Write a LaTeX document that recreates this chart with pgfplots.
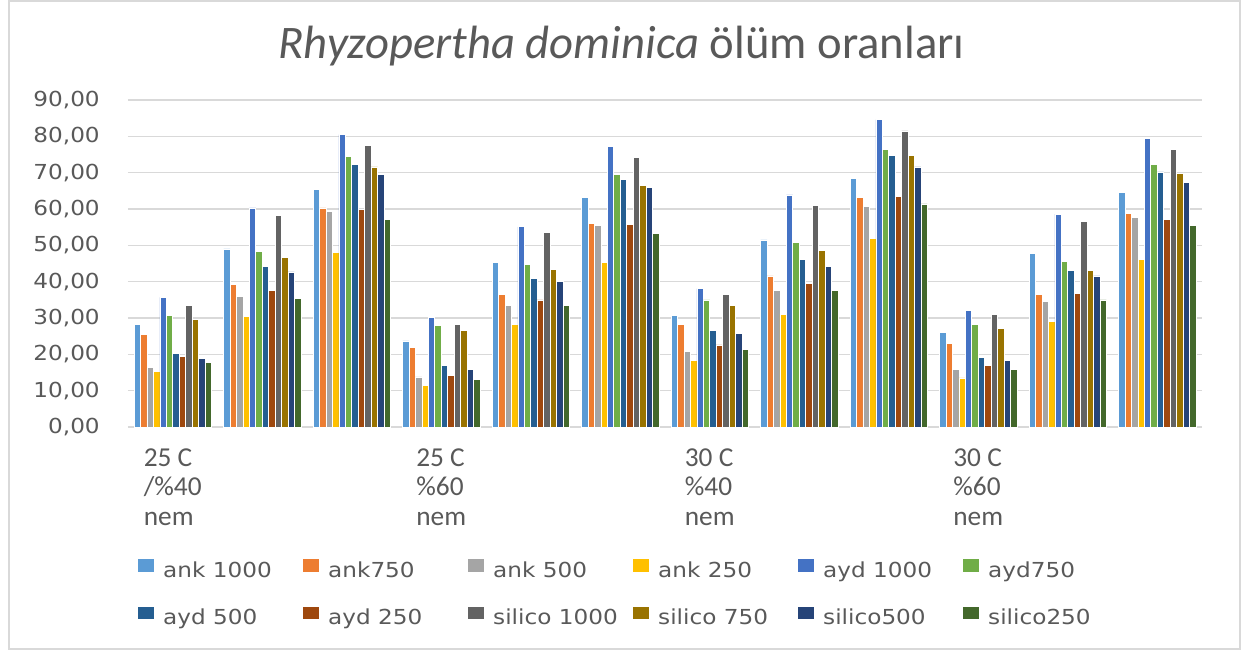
\documentclass[border=0pt]{standalone}
\usepackage{pgfplots}
\pgfplotsset{compat=1.18}
\usepackage{fontspec}
\setmainfont{Carlito}
\newfontfamily\dv[FakeStretch=1.12]{DejaVu Sans}
\definecolor{c1}{HTML}{5B9BD5}
\definecolor{c2}{HTML}{ED7D31}
\definecolor{c3}{HTML}{A5A5A5}
\definecolor{c4}{HTML}{FFC000}
\definecolor{c5}{HTML}{4472C4}
\definecolor{c6}{HTML}{70AD47}
\definecolor{c7}{HTML}{255E91}
\definecolor{c8}{HTML}{9E480E}
\definecolor{c9}{HTML}{636363}
\definecolor{c10}{HTML}{997300}
\definecolor{c11}{HTML}{264478}
\definecolor{c12}{HTML}{43682B}
\definecolor{gridc}{HTML}{D9D9D9}
\definecolor{txt}{HTML}{595959}
\newcommand{\lb}[1]{\makebox[105pt][l]{#1}}
\begin{document}
\begin{tikzpicture}
\useasboundingbox (0,0) rectangle (933.75pt,487.5pt);
\draw[color=gridc, line width=1.5pt] (6.75pt,0.75pt) rectangle (930pt,486.75pt);
\begin{axis}[
  at={(96pt,167.25pt)}, anchor=south west,
  width=805.5pt, height=245.25pt, scale only axis,
  xmin=-0.5, xmax=11.5, ymin=0, ymax=90,
  ytick={0,10,...,90},
  axis line style={draw=none},
  major tick length=0pt,
  ymajorgrids, grid style={color=gridc, line width=1.1pt},
  ybar=0pt, bar width=0.072,
  every axis plot/.append style={draw=white, line width=0.5pt,
    legend image code/.code={\fill[##1, draw=none] (0pt,0pt) rectangle (12pt,9.5pt);}},
  xtick={0,3,6,9},
  xticklabels={{25 C\\/\%40\\nem},{25 C\\\%60\\nem},{30 C\\\%40\\nem},{30 C\\\%60\\nem}},
  xticklabel style={align=left, font=\fontsize{20.5}{22}\selectfont, text=txt, anchor=north, inner sep=0pt, yshift=-16pt},
  yticklabel style={font=\dv\fontsize{15.5}{18}\selectfont, text=txt, anchor=east, inner sep=0pt, xshift=-21pt,
    /pgf/number format/.cd, fixed, fixed zerofill, precision=2, use comma, assume math mode=true},
  title={\textit{Rhyzopertha dominica} ölüm oranları},
  title style={at={(axis description cs:0.4595,1.139)}, anchor=center, font=\fontsize{35}{40}\selectfont, text=txt},
  legend columns=6,
  legend style={draw=none, fill=none, inner sep=0pt, at={(axis description cs:0.0093,-0.4036)}, anchor=north west,
    font=\dv\fontsize{15.5}{18}\selectfont, text=txt, row sep=18.25pt,
    /tikz/every odd column/.append style={column sep=6.75pt},
    nodes={inner sep=0pt, text height=12pt, text depth=3.5pt}},
]
\addplot[fill=c1] coordinates {(0,28.2)(1,49.0)(2,65.3)(3,23.7)(4,45.2)(5,63.1)(6,30.7)(7,51.5)(8,68.4)(9,26.1)(10,47.7)(11,64.5)};
\addplot[fill=c2] coordinates {(0,25.5)(1,39.2)(2,60.3)(3,21.9)(4,36.4)(5,56.0)(6,28.2)(7,41.6)(8,63.2)(9,23.0)(10,36.4)(11,58.9)};
\addplot[fill=c3] coordinates {(0,16.3)(1,36.0)(2,59.3)(3,13.8)(4,33.5)(5,55.4)(6,20.8)(7,37.5)(8,60.7)(9,15.9)(10,34.6)(11,57.6)};
\addplot[fill=c4] coordinates {(0,15.2)(1,30.4)(2,48.0)(3,11.4)(4,28.2)(5,45.2)(6,18.3)(7,31.1)(8,51.9)(9,13.5)(10,29.0)(11,46.2)};
\addplot[fill=c5] coordinates {(0,35.7)(1,60.3)(2,80.5)(3,30.1)(4,55.1)(5,77.2)(6,38.1)(7,63.9)(8,84.6)(9,32.2)(10,58.6)(11,79.4)};
\addplot[fill=c6] coordinates {(0,30.7)(1,48.3)(2,74.4)(3,28.0)(4,44.8)(5,69.5)(6,35.0)(7,50.8)(8,76.5)(9,28.2)(10,45.6)(11,72.3)};
\addplot[fill=c7] coordinates {(0,20.2)(1,44.1)(2,72.3)(3,17.0)(4,41.0)(5,68.1)(6,26.6)(7,46.2)(8,74.8)(9,19.2)(10,43.1)(11,70.2)};
\addplot[fill=c8] coordinates {(0,19.5)(1,37.5)(2,60.0)(3,14.2)(4,35.0)(5,55.7)(6,22.6)(7,39.6)(8,63.5)(9,17.0)(10,36.8)(11,57.2)};
\addplot[fill=c9] coordinates {(0,33.5)(1,58.2)(2,77.6)(3,28.2)(4,53.6)(5,74.3)(6,36.4)(7,61.0)(8,81.5)(9,31.1)(10,56.5)(11,76.5)};
\addplot[fill=c10] coordinates {(0,29.7)(1,46.6)(2,71.6)(3,26.6)(4,43.4)(5,66.6)(6,33.5)(7,48.7)(8,74.8)(9,27.2)(10,43.1)(11,69.8)};
\addplot[fill=c11] coordinates {(0,18.8)(1,42.7)(2,69.5)(3,15.9)(4,40.0)(5,65.9)(6,25.8)(7,44.1)(8,71.6)(9,18.4)(10,41.6)(11,67.4)};
\addplot[fill=c12] coordinates {(0,17.8)(1,35.4)(2,57.1)(3,13.1)(4,33.5)(5,53.3)(6,21.3)(7,37.5)(8,61.4)(9,15.9)(10,35.0)(11,55.4)};
\legend{\lb{ank 1000},\lb{ank750},\lb{ank 500},\lb{ank 250},\lb{ayd 1000},\lb{ayd750},\lb{ayd 500},\lb{ayd 250},\lb{silico 1000},\lb{silico 750},\lb{silico500},\lb{silico250}}
\end{axis}
\end{tikzpicture}
\end{document}
